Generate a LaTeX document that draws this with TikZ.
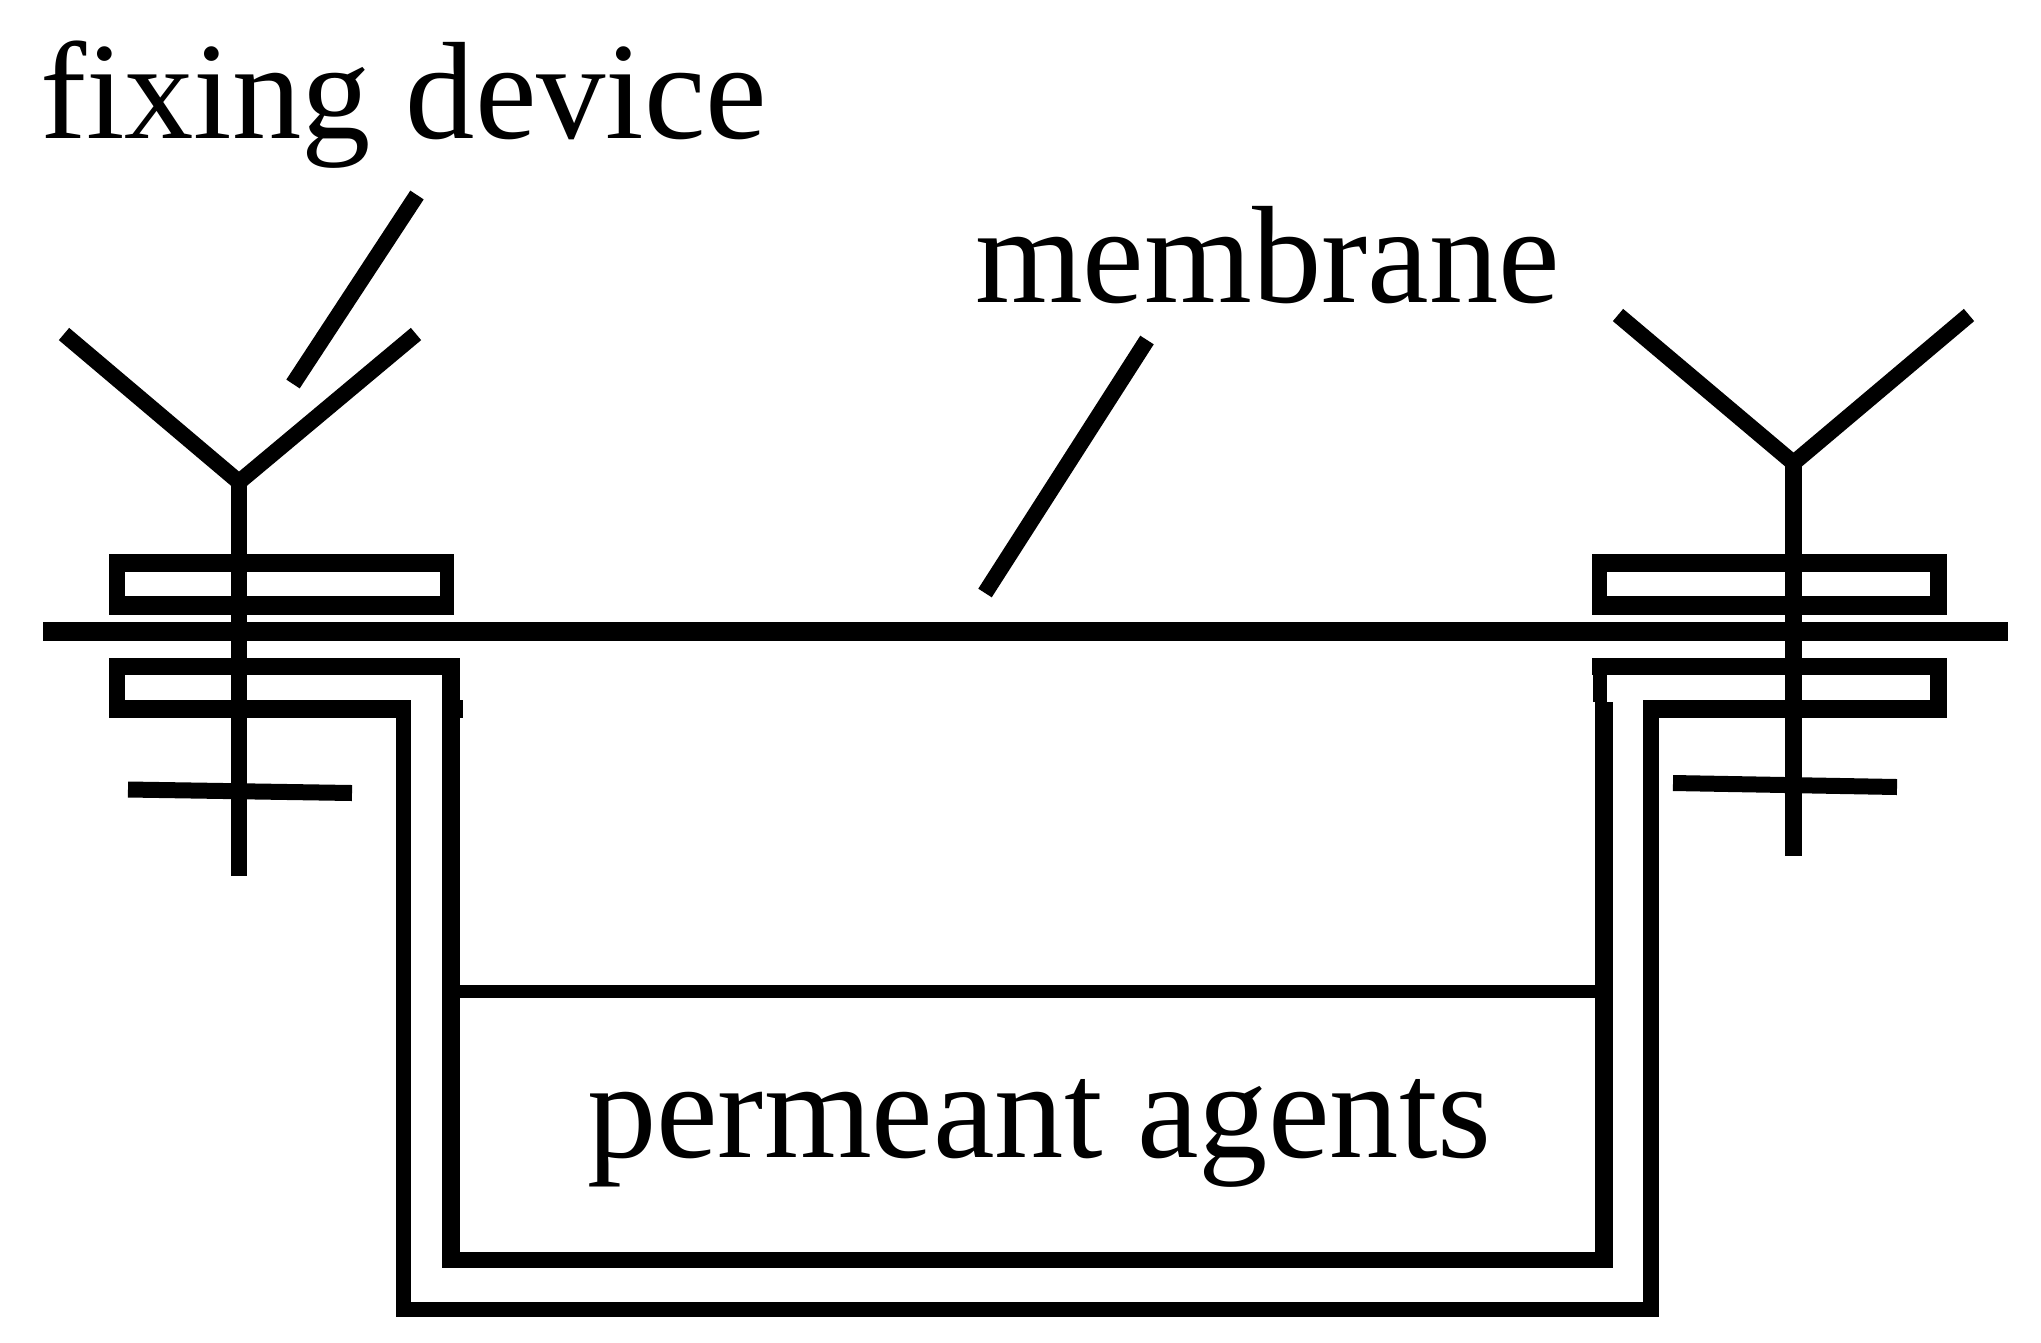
\documentclass[tikz,border=0pt]{standalone}
\usepackage{fontspec}
\setmainfont{Liberation Serif}[Ligatures={NoCommon}]
\tikzset{
  ink/.style={fill=black,draw=none},
  arm/.style={draw=black,line width=16pt,line join=miter,line cap=butt},
  stem/.style={draw=black,line width=15.5pt,line cap=butt},
  bar/.style={draw=black,line width=16pt,line cap=butt},
  membrane/.style={draw=black,line width=19pt,line cap=butt},
  leader/.style={draw=black,line width=16pt,line cap=butt},
  lbl/.style={anchor=base west,inner sep=0pt,outer sep=0pt,font=\fontsize{138.6}{138.6}\selectfont}
}
\newcommand{\rct}[4]{\fill[ink] (#1,#3) rectangle (#2,#4);}
\begin{document}
\begin{tikzpicture}[x=1pt,y=-1pt]
\useasboundingbox (0,0) rectangle (2041,1342);
\fill[white] (0,0) rectangle (2041,1342);
% labels
\node[lbl] (fixing) at (40,138) {fixing device};
\node[lbl] (memlabel) at (975,302) {membrane};
\node[lbl] (agents) at (587,1157) {permeant agents};
% leaders
\coordinate (fixA) at (417,195);
\coordinate (fixB) at (293,384);
\coordinate (memA) at (1147,340);
\coordinate (memB) at (985,593);
\draw[leader] (fixA) -- (fixB);
\draw[leader] (memA) -- (memB);
% membrane
\coordinate (mL) at (43,631.5);
\coordinate (mR) at (2008,631.5);
\draw[membrane] (mL) -- (mR);
% left fixing device
\coordinate (lvL) at (64,334);
\coordinate (lvR) at (416,334);
\coordinate (lv) at (239,482);
\coordinate (lvE) at (239,876);
\draw[arm] (lvL) -- (lv) -- (lvR);
\draw[stem] (lv) -- (lvE);
\coordinate (lbA) at (128,789.5);
\coordinate (lbB) at (352,793);
\draw[bar] (lbA) -- (lbB);
% right fixing device
\coordinate (rvL) at (1618,315);
\coordinate (rvR) at (1969,315);
\coordinate (rv) at (1793.5,463);
\coordinate (rvE) at (1793.5,856);
\draw[arm] (rvL) -- (rv) -- (rvR);
\draw[stem,line width=17pt] (rv) -- (rvE);
\coordinate (rbA) at (1673,783);
\coordinate (rbB) at (1897,787);
\draw[bar] (rbA) -- (rbB);
% upper left clamp
\rct{109}{454}{554}{572}
\rct{109}{454}{596}{615}
\rct{109}{125}{554}{615}
\rct{440}{454}{554}{615}
% upper right clamp
\rct{1592}{1947}{554}{572}
\rct{1592}{1947}{596}{615}
\rct{1592}{1607}{554}{615}
\rct{1930}{1947}{554}{615}
% lower left clamp
\rct{109}{460}{658}{675}
\rct{109}{411}{700}{718}
\rct{109}{125}{658}{718}
% lower right clamp
\rct{1592}{1947}{658}{675}
\rct{1643}{1947}{700}{718}
\rct{1930}{1947}{658}{718}
% inner wall
\rct{442}{459.5}{658}{1268}
\rct{457}{462.5}{700}{718}
\rct{442}{1613}{1252}{1268}
\rct{1593}{1607}{658}{702}
\rct{1595}{1613}{702}{1268}
% outer wall
\rct{395.5}{411}{700}{1317}
\rct{395.5}{1659}{1302}{1317}
\rct{1643}{1659}{700}{1317}
% fill level
\rct{459}{1595}{985}{998}
\end{tikzpicture}
\end{document}
